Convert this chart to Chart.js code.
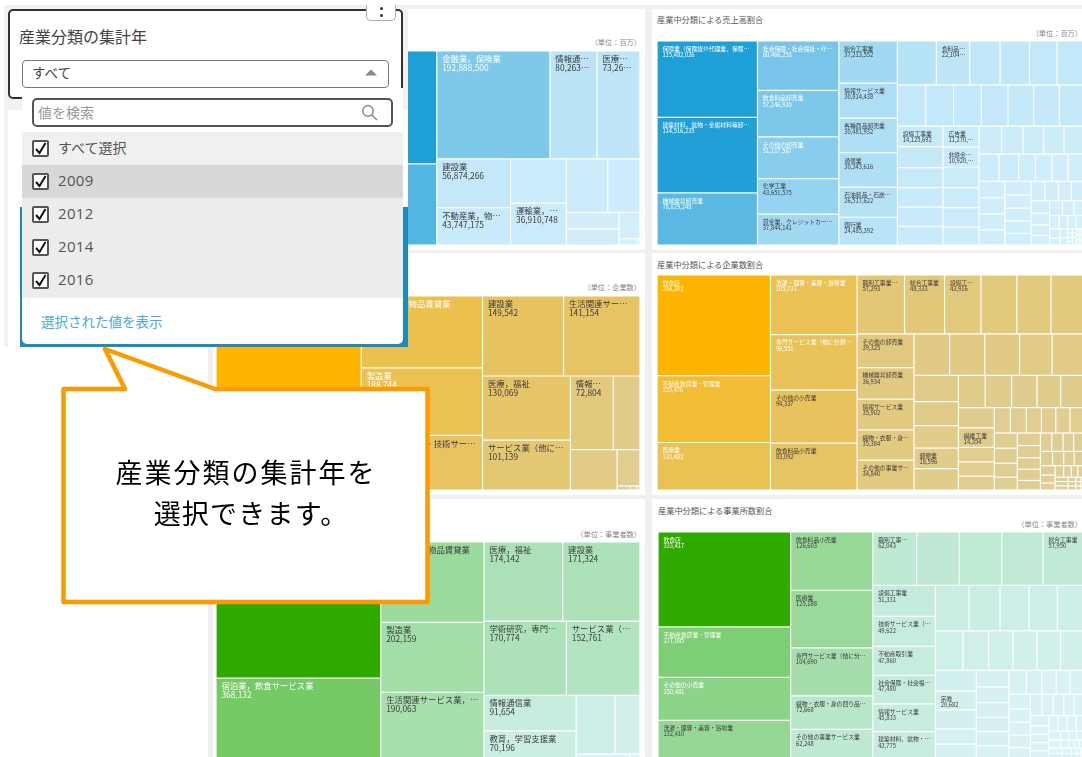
<!DOCTYPE html>
<html lang="ja">
<head>
<meta charset="utf-8">
<title>産業分類</title>
<script src="https://cdn.jsdelivr.net/npm/chart.js@4/dist/chart.umd.js"></script>
<style>
  html, body { margin: 0; padding: 0; width: 1082px; height: 757px; overflow: hidden; background: #fff; }
  body { position: relative; font-family: "Noto Sans CJK JP", "Noto Sans", sans-serif; }
  .abs { position: absolute; box-sizing: border-box; }
  .txt { position: absolute; white-space: nowrap; line-height: 1; }
  canvas { position: absolute; display: block; }
  .row { position: absolute; left: 22px; width: 381px; height: 33px; }
  .box { position: absolute; left: 10px; top: 8px; width: 17px; height: 17px; box-sizing: border-box; border: 2px solid #555; border-radius: 2px; background: #fff; }
  .row span { position: absolute; left: 36px; top: 8px; font-size: 14px; line-height: 1; color: #555; }
  .row span.num { font: 15px "Open Sans", sans-serif; top: 5px; letter-spacing: .3px; }
</style>
</head>
<body>
<div class="abs" style="left:208px;top:5px;width:874px;height:752px;background:#f0f0f0"></div>
<div class="abs" style="left:213px;top:9px;width:432px;height:241px;background:#fff"></div>
<div class="abs" style="left:652px;top:9px;width:430px;height:241px;background:#fff"></div>
<div class="abs" style="left:213px;top:253px;width:432px;height:242px;background:#fff"></div>
<div class="abs" style="left:652px;top:253px;width:430px;height:242px;background:#fff"></div>
<div class="abs" style="left:213px;top:499px;width:432px;height:258px;background:#fff"></div>
<div class="abs" style="left:652px;top:499px;width:430px;height:258px;background:#fff"></div>

<canvas id="salesMajor" style="left:216px;top:51px"></canvas>
<canvas id="salesMiddle" style="left:657px;top:41px"></canvas>
<canvas id="firmsMajor" style="left:216px;top:296px"></canvas>
<canvas id="firmsMiddle" style="left:657px;top:275px"></canvas>
<canvas id="officesMajor" style="left:216px;top:542px"></canvas>
<canvas id="officesMiddle" style="left:658px;top:532px"></canvas>

<div class="txt" style="left:657px;top:15px;font-size:8.2px;color:#555">産業中分類による売上高割合</div>
<div class="txt" style="left:657px;top:260px;font-size:8.2px;color:#555">産業中分類による企業数割合</div>
<div class="txt" style="left:658px;top:506px;font-size:8.2px;color:#555">産業中分類による事業所数割合</div>
<div class="txt" style="right:441px;top:39px;font-size:7.2px;color:#888">（単位：百万）</div>
<div class="txt" style="right:0;top:30px;font-size:7.2px;color:#888">（単位：百万）</div>
<div class="txt" style="right:441px;top:284px;font-size:7.2px;color:#888">（単位：企業数）</div>
<div class="txt" style="right:441px;top:531px;font-size:7.2px;color:#888">（単位：事業者数）</div>
<div class="txt" style="right:0;top:521px;font-size:7.2px;color:#888">（単位：事業者数）</div>

<!-- 年フィルターの切り抜き -->
<div class="abs" style="left:4px;top:5px;width:404px;height:342px;background:#f2f2f2;overflow:hidden">
  <div class="abs" style="left:4px;top:105px;width:400px;height:240px;background:#fff"></div>
  <div class="abs" style="left:16px;top:202px;width:388px;height:140px;background:#1c8cbe"></div>
  <div class="abs" style="left:399px;top:202px;width:5px;height:140px;background:#1c8cbe"></div>
</div>
<div class="abs" style="left:8px;top:9px;width:395px;height:90px;background:#fff;border:2px solid #333;border-radius:5px"></div>
<div class="abs" style="left:366px;top:5px;width:30px;height:16px;background:#fff;border:1px solid #aaa;border-top:0;border-radius:0 0 5px 5px"></div>
<div class="abs" style="left:379.5px;top:7px;width:3px;height:3px;border-radius:50%;background:#333"></div>
<div class="abs" style="left:379.5px;top:14px;width:3px;height:3px;border-radius:50%;background:#333"></div>
<div class="txt" style="left:19px;top:28px;font-size:16px;color:#444">産業分類の集計年</div>
<div class="abs" style="left:22px;top:60px;width:367px;height:28px;background:#fff;border:1.5px solid #777;border-radius:4px"></div>
<div class="txt" style="left:32px;top:66px;font-size:13.5px;color:#444">すべて</div>
<svg class="abs" style="left:365px;top:69px" width="12" height="7"><path d="M0 6.5 L6 0.5 L12 6.5 Z" fill="#888"/></svg>

<div class="abs" style="left:22px;top:88px;width:381px;height:256px;background:#fff;border-radius:0 0 5px 5px"></div>
<div class="abs" style="left:32px;top:98px;width:361px;height:29px;background:#fff;border:2px solid #555;border-radius:5px"></div>
<div class="txt" style="left:38px;top:105px;font-size:14px;color:#999">値を検索</div>
<svg class="abs" style="left:361px;top:104px" width="17" height="17" fill="none" stroke="#888" stroke-width="1.5"><circle cx="7" cy="7" r="5.2"/><path d="M11 11 L16 16"/></svg>

<div class="row" style="top:132px;background:#f0f0f0"><div class="box"></div><svg class="abs" style="left:10px;top:8px" width="17" height="17" fill="none" stroke="#111" stroke-width="2"><path d="M4 9 L7.5 13 L13.5 3"/></svg><span>すべて選択</span></div>
<div class="row" style="top:165px;background:#d8d8d8"><div class="box"></div><svg class="abs" style="left:10px;top:8px" width="17" height="17" fill="none" stroke="#111" stroke-width="2"><path d="M4 9 L7.5 13 L13.5 3"/></svg><span class="num">2009</span></div>
<div class="row" style="top:198px;background:#ececec"><div class="box"></div><svg class="abs" style="left:10px;top:8px" width="17" height="17" fill="none" stroke="#111" stroke-width="2"><path d="M4 9 L7.5 13 L13.5 3"/></svg><span class="num">2012</span></div>
<div class="row" style="top:231px;background:#ececec"><div class="box"></div><svg class="abs" style="left:10px;top:8px" width="17" height="17" fill="none" stroke="#111" stroke-width="2"><path d="M4 9 L7.5 13 L13.5 3"/></svg><span class="num">2014</span></div>
<div class="row" style="top:264px;height:34px;background:#ececec"><div class="box"></div><svg class="abs" style="left:10px;top:8px" width="17" height="17" fill="none" stroke="#111" stroke-width="2"><path d="M4 9 L7.5 13 L13.5 3"/></svg><span class="num">2016</span></div>
<div class="txt" style="left:41px;top:315px;font-size:13.5px;color:#4aa8e0">選択された値を表示</div>

<!-- 吹き出し -->
<svg class="abs" style="left:0;top:0" width="1082" height="757">
  <path d="M63.5 389 L125 389 L105 349 L215 389 L427.5 389 L427.5 602 L63.5 602 Z" fill="#fff" stroke="#ff9900" stroke-width="4.5" stroke-linejoin="round"/>
</svg>
<div class="txt" style="left:63px;width:366px;top:458px;text-align:center;font-size:27px;letter-spacing:2px;color:#000">産業分類の集計年を</div>
<div class="txt" style="left:68px;width:366px;top:499px;text-align:center;font-size:27px;letter-spacing:1.2px;color:#000">選択できます。</div>

<script>
// 値の入れ子: 奇数段は左右に分割、偶数段は上下に分割
const salesMajorValues = [
  [394000000, 283000000],
  [
    [192888500, 80263000, 73260000],
    [
      [56874266, 43747175],
      [39000000, 36910748],
      [
        [35000000, 27300000],
        [
          [13800000, 13400000],
          [8800000, [1800000, 300000]]
        ]
      ]
    ]
  ]
];
const salesMajorLabels = {
  192888500: '金融業，保険業', 80263000: '情報通信業', 73260000: '医療，福祉',
  56874266: '建設業', 43747175: '不動産業，物品賃貸業', 36910748: '運輸業，郵便業'
};

const salesMiddleValues = [
  [115482026, 114516235, 78829248],
  [60466253, 57146920, 51117567, 43651575, 37844141],
  [37213552, 30814438, 30481932, 30343616, 26517622, 24485392],
  [
    [25800000, 22104000, 20100000, 19500000, 18300000, 17800000],
    [17600000, 17300000, 17200000, 16600000, 16000000, 15900000, 15300000],
    [
      [14125692, 14400000, 13700000, 13400000, 13200000, 12900000],
      [11270000, 10920000, 11000000, 10800000, 10500000, 9700000],
      [
        [9500000, 9100000, 8600000, 8550000, 8400000],
        [8200000, 8100000, 6900000, 6850000, 6600000, 6500000],
        [
          [6400000, 6300000, 6200000, 5900000],
          [5400000, 5300000, 5100000, 5000000, 4600000],
          [
            [4000000, 3900000, 3800000, 3700000],
            [
              [3500000, 3200000, 3000000, 2600000],
              [
                [2900000, 2600000, 2200000],
                [1900000, 1700000, 1670000, 1600000],
                [
                  [1450000, 1080000], [1030000, 810000],
                  [320000, 310000, 300000, 290000], [280000, 270000, 260000, 250000],
                  [240000, 230000, 220000], [210000, 190000, 180000], [170000, 160000, 150000]
                ]
              ]
            ]
          ]
        ]
      ]
    ]
  ]
];
const salesMiddleLabels = {
  115482026: '保険業（保険媒介代理業，保険サービス業を含む）', 114516235: '建築材料，鉱物・金属材料等卸売業',
  78829248: '機械器具卸売業', 60466253: '社会保険・社会福祉・介護事業', 57146920: '飲食料品卸売業',
  51117567: 'その他の卸売業', 43651575: '化学工業', 37844141: '貸金業，クレジットカード業等非預金信用機関',
  37213552: '総合工事業', 30814438: '情報サービス業', 30481932: '各種商品卸売業', 30343616: '通信業',
  26517622: '石油製品・石炭製品製造業', 24485392: '銀行業', 22104000: '食料品製造業',
  14125692: '設備工事業', 11270000: '広告業', 10920000: '非鉄金属製造業'
};

const firmsMajorValues = [
  [393000, 257000],
  [201000, 188744, 153000],
  [
    [149542, 141154],
    [
      [130069, 101139],
      [
        [72804, 45400],
        [
          [43500],
          [19200, [1250, 600, 300]]
        ]
      ]
    ]
  ]
];
const firmsMajorLabels = {
  201000: '不動産業，物品賃貸業', 188744: '製造業', 153000: '学術研究，専門・技術サービス業',
  149542: '建設業', 141154: '生活関連サービス業，娯楽業', 130069: '医療，福祉',
  101139: 'サービス業（他に分類されないもの）', 72804: '情報通信業'
};

const firmsMiddleValues = [
  [234303, 155476, 110483],
  [105731, 98551, 94337, 83092],
  [
    [57293, 48333, 43916, 43300, 41200, 39900],
    [
      [39325, 36934, 35902, 35384, 34840],
      [
        [30200, 29900, 29600, 27700, 27100],
        [
          [24000, 21800, 20400, 18596, 19500],
          [
            [17700, 17500, 16800, 15700, 15400],
            [
              [14900, 14354, 10700, 10400, 10200],
              [
                [8400, 8300, 7900, 7500, 7400, 7300],
                [
                  [7200, 7100, 6600, 6100],
                  [5900, 5800, 5400, 5300, 4500],
                  [
                    [4300, 4200, 4000, 3900],
                    [3600, 3300, 3100, 2900],
                    [
                      [2800, 2400, 2100],
                      [
                        [2000, 1800, 1500, 1440],
                        [[1170, 1150, 1120], [690, 680, 640], [450, 430, 400], [320, 300, 280]]
                      ]
                    ]
                  ]
                ]
              ]
            ]
          ]
        ]
      ]
    ]
  ]
];
const firmsMiddleLabels = {
  234303: '飲食店', 155476: '不動産賃貸業・管理業', 110483: '医療業',
  105731: '洗濯・理容・美容・浴場業', 98551: '専門サービス業（他に分類されないもの）',
  94337: 'その他の小売業', 83092: '飲食料品小売業', 57293: '職別工事業（設備工事業を除く）',
  48333: '総合工事業', 43916: '設備工事業', 39325: 'その他の卸売業', 36934: '機械器具卸売業',
  35902: '情報サービス業', 35384: '織物・衣服・身の回り品小売業', 34840: 'その他の事業サービス業',
  18596: '郵便業', 14354: '繊維工業'
};

const officesMajorValues = [
  [628000, 368132],
  [232000, 202159, 190063],
  [
    [174142, 171324],
    [170774, 152761],
    [
      [91654, 70196],
      [
        [64000, 41000],
        [6100, 1100]
      ]
    ]
  ]
];
const officesMajorLabels = {
  368132: '宿泊業，飲食サービス業', 232000: '不動産業，物品賃貸業', 202159: '製造業',
  190063: '生活関連サービス業，娯楽業', 174142: '医療，福祉', 171324: '建設業',
  170774: '学術研究，専門・技術サービス業', 152761: 'サービス業（他に分類されないもの）',
  91654: '情報通信業', 70196: '教育，学習支援業'
};

const officesMiddleValues = [
  [333417, 177085, 150481, 132410],
  [126603, 125188, 104690, 72668, 62248],
  [
    [62043, 60500, 60000, 58500, 57950],
    [
      [51331, 49622, 47860, 47480, 45833, 43775],
      [
        [40400, 37200, 34700, 34000, 32000],
        [28800, 26900, 25500, 25100, 24700, 24500],
        [
          [22300, 20682, 20500, 16600, 15000],
          [14300, 13500, 12800, 12200, 11900, 10700],
          [
            [11100, 9800, 9200, 8900, 8800],
            [
              [8300, 7700, 7300, 7200, 5900],
              [
                [6700, 6200, 6000, 5700, 5650],
                [
                  [4900, 4100, 4050, 4000, 3500],
                  [
                    [3800, 3700, 3600, 3200],
                    [2800, 2000, 1900, 1800],
                    [2600, 1700, 1200, 1100, 1050],
                    [[1870, 1600], [1280, 1090], [750, 640], [540, 520], [440, 420]]
                  ]
                ]
              ]
            ]
          ]
        ]
      ]
    ]
  ]
];
const officesMiddleLabels = {
  333417: '飲食店', 177085: '不動産賃貸業・管理業', 150481: 'その他の小売業',
  132410: '洗濯・理容・美容・浴場業', 126603: '飲食料品小売業', 125188: '医療業',
  104690: '専門サービス業（他に分類されないもの）', 72668: '織物・衣服・身の回り品小売業',
  62248: 'その他の事業サービス業', 62043: '職別工事業（設備工事業を除く）', 57950: '総合工事業',
  51331: '設備工事業', 49622: '技術サービス業（他に分類されないもの）', 47860: '不動産取引業',
  47480: '社会保険・社会福祉・介護事業', 45833: '情報サービス業',
  43775: '建築材料，鉱物・金属材料等卸売業', 20682: '宗教'
};

const blueRamp = [[0, '#d6f0fc'], [0.19, '#bee6f8'], [0.5, '#7cc7ea'], [1, '#1f9fd8']];
const yellowRamp = [[0, '#dfce96'], [0.35, '#e6c465'], [1, '#ffb400']];
const greenRamp = [[0, '#ddf3f9'], [0.15, '#c5ecdd'], [0.38, '#98d998'], [1, '#2fab00']];

function toRgb(hex) {
  return [1, 3, 5].map(i => parseInt(hex.slice(i, i + 2), 16));
}

function rampColor(ramp, t) {
  for (let i = 1; i < ramp.length; i++) {
    if (t <= ramp[i][0]) {
      const f = (t - ramp[i - 1][0]) / (ramp[i][0] - ramp[i - 1][0]);
      const a = toRgb(ramp[i - 1][1]), b = toRgb(ramp[i][1]);
      return 'rgb(' + a.map((c, k) => Math.round(c + (b[k] - c) * f)).join(',') + ')';
    }
  }
  return ramp[ramp.length - 1][1];
}

function sumTree(node) {
  return Array.isArray(node) ? node.reduce((s, n) => s + sumTree(n), 0) : node;
}

// 値の比率だけで0〜1の座標に分割する
function layoutTree(node, x0, y0, x1, y1, across, out) {
  if (!Array.isArray(node)) {
    out.push({ x: x0, y: y0, x2: x1, y2: y1, v: node });
    return out;
  }
  const total = sumTree(node);
  let pos = across ? x0 : y0;
  node.forEach(child => {
    const size = sumTree(child) / total * (across ? x1 - x0 : y1 - y0);
    if (across) layoutTree(child, pos, y0, pos + size, y1, false, out);
    else layoutTree(child, x0, pos, x1, pos + size, true, out);
    pos += size;
  });
  return out;
}

class TreemapController extends Chart.DatasetController {
  update(mode) {
    const meta = this._cachedMeta;
    this.updateElements(meta.data, 0, meta.data.length, mode);
  }
  updateElements(rects, start, count, mode) {
    const { xScale, yScale } = this._cachedMeta;
    const gap = this.getDataset().cellGap;
    for (let i = start; i < start + count; i++) {
      const c = this.getDataset().data[i];
      const left = xScale.getPixelForValue(c.x) + gap;
      const right = xScale.getPixelForValue(c.x2) - gap;
      const top = yScale.getPixelForValue(c.y) + gap;
      const bottom = yScale.getPixelForValue(c.y2) - gap;
      this.updateElement(rects[i], i, {
        x: (left + right) / 2,
        y: top,
        base: bottom,
        width: Math.max(right - left, 0),
        height: Math.max(bottom - top, 0),
        horizontal: false,
        inflateAmount: 0,
        borderSkipped: {},
        enableBorderRadius: false,
        options: this.resolveDataElementOptions(i, mode)
      }, mode);
    }
  }
}
TreemapController.id = 'treemap';
TreemapController.defaults = { dataElementType: 'bar' };
Chart.register(TreemapController);

// セル左上の名称と値。入らない分は…で切る
function fitText(ctx, text, maxWidth) {
  if (ctx.measureText(text).width <= maxWidth) return text;
  let s = text;
  while (s.length > 1 && ctx.measureText(s + '…').width > maxWidth) s = s.slice(0, -1);
  return s + '…';
}

const cellLabels = {
  id: 'cellLabels',
  afterDatasetsDraw(chart) {
    const ds = chart.data.datasets[0];
    const ctx = chart.ctx;
    const size = ds.labelSize;
    const { x: xs, y: ys } = chart.scales;
    ctx.save();
    ctx.font = size + 'px "Noto Sans CJK JP"';
    ctx.textBaseline = 'middle';
    ds.data.forEach(c => {
      const label = ds.labels[c.v];
      if (!label) return;
      const left = xs.getPixelForValue(c.x);
      const right = xs.getPixelForValue(c.x2);
      const top = ys.getPixelForValue(c.y);
      const room = right - left - size * 0.6 - 6;
      ctx.fillStyle = c.v / ds.maxValue > 0.42 ? '#fff' : '#3a3a3a';
      ctx.fillText(fitText(ctx, label, room), left + 5.4, top + ds.lineTops[0]);
      ctx.fillText(fitText(ctx, c.v.toLocaleString('en-US'), room), left + 5.4, top + ds.lineTops[1]);
    });
    ctx.restore();
  }
};

function drawTreemap(id, width, height, values, labels, ramp, labelSize, lineTops) {
  const canvas = document.getElementById(id);
  canvas.width = width;
  canvas.height = height;
  const cells = layoutTree(values, 0, 0, 1, 1, true, []);
  const maxValue = Math.max(...cells.map(c => c.v));
  return new Chart(canvas, {
    type: 'treemap',
    data: {
      datasets: [{
        data: cells,
        parsing: false,
        labels: labels,
        labelSize: labelSize,
        lineTops: lineTops,
        maxValue: maxValue,
        cellGap: 0.6,
        backgroundColor: cells.map(c => rampColor(ramp, c.v / maxValue)),
        borderWidth: 0
      }]
    },
    options: {
      responsive: false,
      animation: false,
      events: [],
      layout: { padding: 0 },
      plugins: { legend: { display: false }, tooltip: { enabled: false } },
      scales: {
        x: { type: 'linear', min: 0, max: 1, display: false },
        y: { type: 'linear', min: 0, max: 1, reverse: true, display: false }
      }
    },
    plugins: [cellLabels]
  });
}

drawTreemap('salesMajor', 424, 194, salesMajorValues, salesMajorLabels, blueRamp, 8.4, [8, 17]);
drawTreemap('salesMiddle', 427, 204, salesMiddleValues, salesMiddleLabels, blueRamp, 5.8, [7.6, 14]);
drawTreemap('firmsMajor', 424, 194, firmsMajorValues, firmsMajorLabels, yellowRamp, 8.4, [8, 17]);
drawTreemap('firmsMiddle', 427, 215, firmsMiddleValues, firmsMiddleLabels, yellowRamp, 5.8, [7.6, 14]);
drawTreemap('officesMajor', 424, 216, officesMajorValues, officesMajorLabels, greenRamp, 8.4, [8, 17]);
drawTreemap('officesMiddle', 426, 226, officesMiddleValues, officesMiddleLabels, greenRamp, 5.8, [7.6, 14]);
</script>
</body>
</html>
